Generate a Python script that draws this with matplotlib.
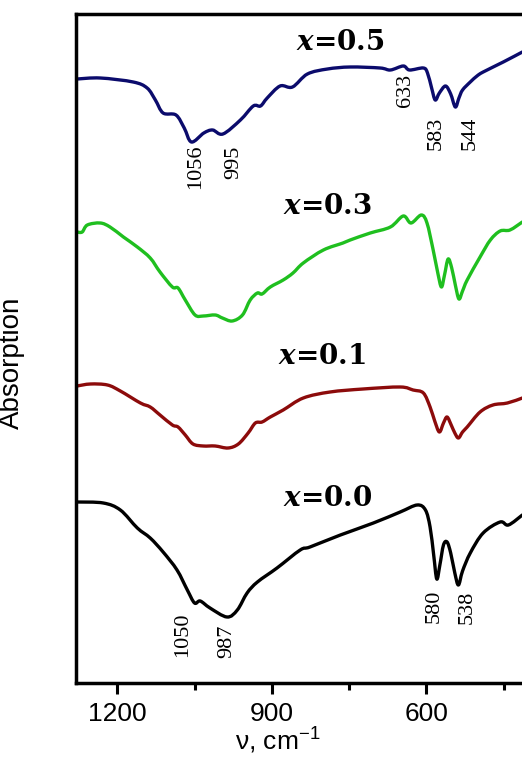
import matplotlib
matplotlib.use('Agg')
import numpy as np
import matplotlib.pyplot as plt
from matplotlib.path import Path
from matplotlib.patches import PathPatch
from matplotlib.ticker import FixedLocator

plt.rcParams['mathtext.fontset'] = 'custom'
plt.rcParams['mathtext.it'] = 'DejaVu Serif:italic:bold'
plt.rcParams['mathtext.default'] = 'regular'

# FTIR spectra, stacked (wavenumber in cm-1, absorption in arbitrary units)
wn_05 = [1278, 1233, 1169, 1142, 1126, 1111, 1086, 1070, 1056, 1032, 1015, 995, 961, 936, 922, 909, 884, 860,
         831, 792, 748, 690, 670, 645, 633, 606, 598, 590, 583, 575, 563, 553, 544, 537, 530, 515, 502, 490, 451, 414]
ab_05 = [604, 605, 601, 595, 583, 570, 568, 555, 541, 550, 553, 549, 563, 577, 577, 585, 597, 596,
         609, 614, 616, 615, 613, 617, 613, 615, 610, 595, 583, 590, 597, 589, 576, 585, 593, 601, 607, 611, 621, 631]

wn_03 = [1278, 1268, 1258, 1233, 1214, 1188, 1161, 1136, 1117, 1093, 1082, 1068, 1049, 1033, 1010, 996, 977,
         957, 942, 928, 919, 903, 878, 859, 839, 800, 762, 748, 709, 670, 645, 630, 610, 599, 587, 578, 571,
         565, 558, 551, 544, 537, 530, 521, 496, 476, 457, 438, 414]
ab_03 = [451, 451, 458, 460, 456, 446, 436, 425, 411, 396, 395, 383, 368, 367, 368, 365, 362,
         368, 383, 390, 389, 396, 403, 410, 420, 433, 440, 443, 450, 456, 467, 460, 468, 460, 433, 410, 396,
         408, 424, 415, 398, 384, 392, 403, 426, 443, 452, 453, 461]

wn_01 = [1278, 1252, 1219, 1194, 1155, 1136, 1117, 1093, 1082, 1068, 1053, 1033, 1010, 985, 965, 946, 932,
         919, 903, 878, 839, 787, 723, 651, 626, 606, 593, 584, 575, 567, 560, 552, 545, 538, 530, 521, 496,
         471, 443, 414]
ab_01 = [297, 299, 298, 292, 280, 276, 268, 258, 256, 248, 239, 237, 237, 235, 239, 250, 260,
         261, 266, 273, 285, 291, 294, 296, 293, 290, 276, 262, 251, 260, 266, 258, 250, 245, 251, 256, 271,
         278, 280, 285]

wn_00 = [1278, 1227, 1194, 1161, 1136, 1111, 1084, 1064, 1050, 1039, 1020, 987, 967, 948, 928, 890, 845, 826,
         767, 703, 651, 618, 602, 593, 586, 580, 574, 567, 560, 553, 545, 538, 530, 515, 490, 457, 441, 414]
ab_00 = [181, 180, 173, 155, 145, 131, 113, 93, 80, 82, 75, 66, 73, 90, 101, 115, 133, 136,
         148, 160, 171, 178, 173, 156, 128, 104, 118, 138, 141, 130, 110, 98, 112, 130, 150, 161, 158, 168]

series_names = [r'$\it{x}$=0.5', r'$\it{x}$=0.3', r'$\it{x}$=0.1', r'$\it{x}$=0.0']
series_colors = ['#0b0b6c', '#1fbf1f', '#8c0b0b', '#000000']
name_pos = [(767, 640), (793, 476), (802, 326), (791, 185)]

# band assignments written under the dips
band_labels = ['1056', '995', '633', '583', '544', '1050', '987', '580', '538']
band_pos = [(1047, 516), (973, 521), (641, 593), (581, 550), (515, 550),
            (1074, 48), (987, 42), (585, 77), (521, 76)]


def smooth_path(x, y):
    # Catmull-Rom curve through every measured point, as cubic Bezier pieces
    p = np.column_stack([x, y]).astype(float)
    p = np.vstack([p[0], p, p[-1]])
    verts = [p[1]]
    codes = [Path.MOVETO]
    for i in range(1, len(p) - 2):
        c1 = p[i] + (p[i + 1] - p[i - 1]) / 6
        c2 = p[i + 1] - (p[i + 2] - p[i]) / 6
        verts += [c1, c2, p[i + 1]]
        codes += [Path.CURVE4] * 3
    return Path(verts, codes)


fig = plt.figure(figsize=(5.22, 7.58), dpi=100)
ax = fig.add_axes([76 / 522, 75 / 758, 452 / 522, 669 / 758])

spectra = [(wn_05, ab_05), (wn_03, ab_03), (wn_01, ab_01), (wn_00, ab_00)]
for (wn, ab), c in zip(spectra, series_colors):
    ax.add_patch(PathPatch(smooth_path(wn, ab), facecolor='none', edgecolor=c,
                           lw=2.4, joinstyle='round', capstyle='round'))

for name, (px, py) in zip(series_names, name_pos):
    ax.text(px, py, name, ha='center', va='center', fontsize=20,
            family='DejaVu Serif', fontweight='bold')

for lab, (px, py) in zip(band_labels, band_pos):
    ax.text(px, py, lab, rotation=90, ha='center', va='center', fontsize=16,
            family='Liberation Serif')

ax.set_xlim(1280, 403)
ax.set_ylim(0, 669)

ax.xaxis.set_major_locator(FixedLocator([1200, 900, 600]))
ax.xaxis.set_minor_locator(FixedLocator([1050, 750, 450]))
ax.tick_params(axis='x', which='major', direction='out', length=8, width=2.2,
               labelsize=19, pad=6)
ax.tick_params(axis='x', which='minor', direction='out', length=5, width=2.2)
for lbl in ax.get_xticklabels():
    lbl.set_family('Liberation Sans')
ax.set_yticks([])

for side in ['left', 'top', 'bottom']:
    ax.spines[side].set_linewidth(2.5)
ax.spines['right'].set_visible(False)

ax.set_xlabel('ν, cm$^{-1}$', fontsize=19, family='Liberation Sans')
ax.xaxis.label.set_va('center')
ax.xaxis.set_label_coords(0.447, -0.086)
ax.set_ylabel('Absorption', fontsize=20, family='Liberation Sans')
ax.yaxis.set_label_coords(-0.113, 0.478)

plt.savefig('out.png', dpi=100)
